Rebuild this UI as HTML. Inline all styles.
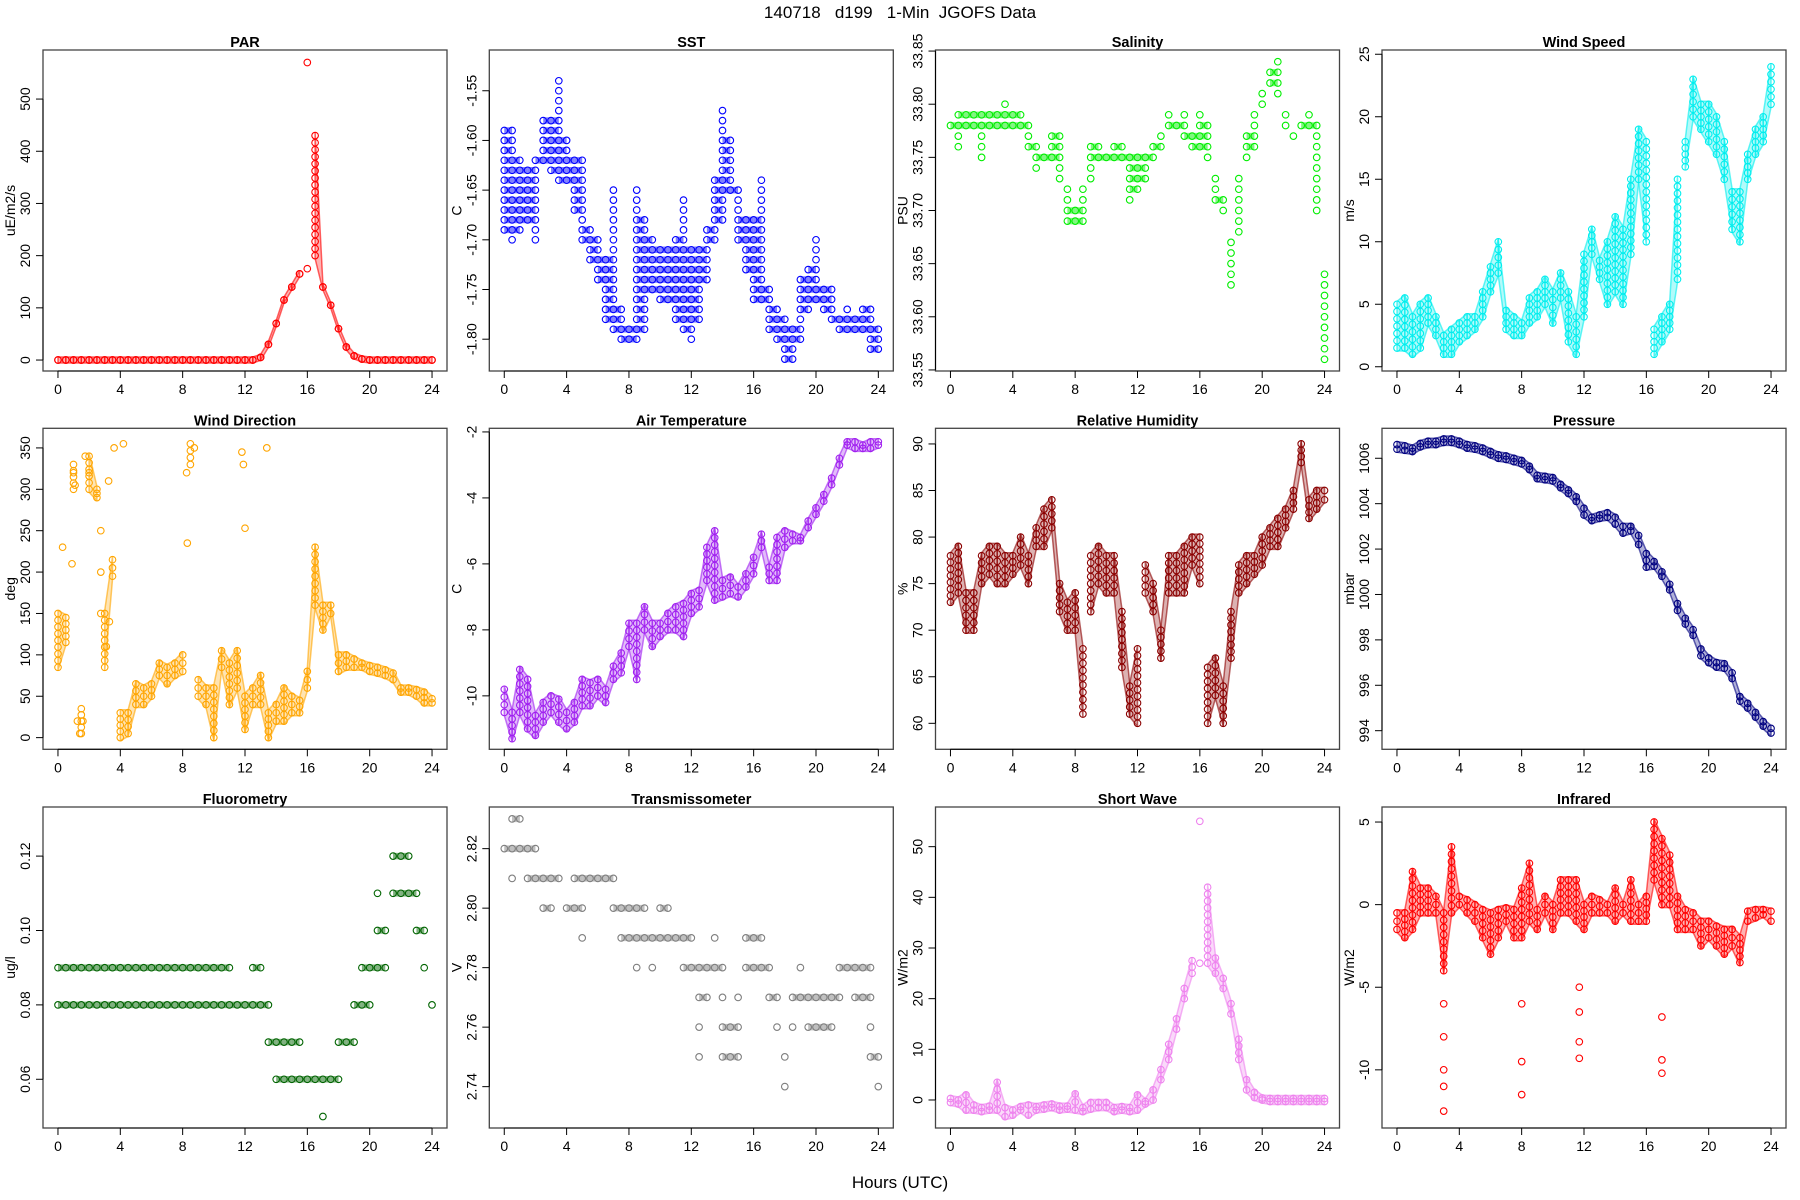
<!DOCTYPE html>
<html><head><meta charset="utf-8"><title>140718 d199 1-Min JGOFS Data</title>
<style>
html,body{margin:0;padding:0;background:#fff;}
svg{display:block;font-family:"Liberation Sans",Arial,sans-serif;}
</style></head>
<body>
<svg id="chart" width="1800" height="1200" viewBox="0 0 1800 1200" xmlns="http://www.w3.org/2000/svg">
<rect x="0" y="0" width="1800" height="1200" fill="#fff"/>
<text x="900" y="18" text-anchor="middle" font-size="17" style="white-space:pre">140718   d199   1-Min  JGOFS Data</text>
<text x="900" y="1188" text-anchor="middle" font-size="17">Hours (UTC)</text>
</svg>
<script>
const hours = [0,0.5,1,1.5,2,2.5,3,3.5,4,4.5,5,5.5,6,6.5,7,7.5,8,8.5,9,9.5,10,10.5,11,11.5,12,12.5,13,13.5,14,14.5,15,15.5,16,16.5,17,17.5,18,18.5,19,19.5,20,20.5,21,21.5,22,22.5,23,23.5,24];
const xTicks = [0,4,8,12,16,20,24];

const parLo = [0,0,0,0,0,0,0,0,0,0,0,0,0,0,0,0,0,0,0,0,0,0,0,0,0,0,5,30,70,115,140,165,175,200,140,105,60,25,8,2,0,0,0,0,0,0,0,0,0];
const parHi = [0,0,0,0,0,0,0,0,0,0,0,0,0,0,0,0,0,0,0,0,0,0,0,0,0,0,5,30,70,115,140,165,570,430,140,105,60,25,8,2,0,0,0,0,0,0,0,0,0];
const parTicks = [0,100,200,300,400,500];

const sstLo = [-1.69,-1.70,-1.69,-1.68,-1.70,-1.62,-1.63,-1.64,-1.64,-1.67,-1.70,-1.72,-1.74,-1.78,-1.79,-1.80,-1.80,-1.80,-1.79,-1.75,-1.76,-1.76,-1.78,-1.79,-1.80,-1.78,-1.74,-1.70,-1.68,-1.65,-1.70,-1.73,-1.76,-1.76,-1.79,-1.80,-1.82,-1.82,-1.80,-1.77,-1.76,-1.77,-1.78,-1.79,-1.79,-1.79,-1.79,-1.81,-1.81];
const sstHi = [-1.59,-1.59,-1.62,-1.63,-1.62,-1.58,-1.58,-1.54,-1.60,-1.62,-1.62,-1.69,-1.70,-1.72,-1.65,-1.77,-1.79,-1.65,-1.68,-1.70,-1.71,-1.71,-1.70,-1.66,-1.71,-1.71,-1.69,-1.64,-1.57,-1.60,-1.65,-1.68,-1.68,-1.64,-1.75,-1.77,-1.78,-1.79,-1.74,-1.73,-1.70,-1.75,-1.75,-1.78,-1.77,-1.78,-1.77,-1.77,-1.79];
const sstTicks = [-1.80,-1.75,-1.70,-1.65,-1.60,-1.55];

const salLo = [33.78,33.76,33.78,33.78,33.75,33.78,33.78,33.78,33.78,33.78,33.76,33.74,33.75,33.75,33.73,33.69,33.69,33.69,33.73,33.75,33.75,33.75,33.75,33.71,33.72,33.73,33.75,33.76,33.78,33.78,33.77,33.76,33.76,33.75,33.71,33.70,33.63,33.68,33.75,33.76,33.80,33.82,33.81,33.78,33.77,33.78,33.78,33.70,33.56];
const salHi = [33.78,33.79,33.79,33.79,33.79,33.79,33.79,33.80,33.79,33.79,33.78,33.76,33.75,33.77,33.77,33.72,33.70,33.72,33.76,33.76,33.75,33.76,33.76,33.75,33.75,33.75,33.76,33.77,33.79,33.78,33.79,33.77,33.79,33.78,33.73,33.71,33.67,33.73,33.77,33.79,33.81,33.83,33.84,33.79,33.77,33.78,33.79,33.78,33.64];
const salTicks = [33.55,33.60,33.65,33.70,33.75,33.80,33.85];

const wsLo = [1.5,1.5,1,1.5,3.5,2.5,1,1,2,2.5,3,4,6,7.5,3,2.5,2.5,3.5,4,5,3.5,5.5,2,1,4,9,7,5,6,5,9,15,10,1,2,3,7,16,20,19,18,17,15,11,10,15,17,18,21];
const wsHi = [5,5.5,4,5,5.5,4,2.5,3,3.5,4,4,6,8,10,4.5,4,3.5,5.5,6,7,6,7.5,6,4,9,11,8.5,10,12,11,15,19,18,3,4,5,15,18,23,21,21,20,18,14,14,17,19,20,24];
const wsTicks = [0,5,10,15,20,25];

const wdLo = [85,115,300,5,300,290,85,195,0,5,40,40,50,75,65,75,80,330,50,40,0,85,40,60,10,40,40,0,20,20,30,30,60,160,130,150,80,85,85,85,80,78,75,70,55,55,50,42,42];
const wdHi = [150,145,330,35,340,300,150,215,30,30,65,60,65,90,85,90,100,355,70,60,60,105,90,105,50,60,75,30,40,60,50,45,80,230,160,160,100,100,95,90,87,85,82,78,60,60,58,55,47];
const wdExtraT = [0.3,0.9,1,1.1,1.25,1.4,1.6,1.75,2,2.5,2.75,2.75,2.75,3.1,3.25,3.3,3.6,4.2,8.25,8.3,8.75,11.8,11.9,12,13.4];
const wdExtraV = [230,210,320,305,20,5,20,340,320,295,250,200,150,110,310,140,350,355,320,235,350,345,330,253,350];
const wdTicks = [0,50,100,150,200,250,300,350];

const atLo = [-10.5,-11.3,-10.5,-11,-11.2,-10.8,-10.5,-10.8,-11,-10.8,-10.3,-10.3,-10,-10.2,-9.5,-9.3,-8.5,-9.5,-8,-8.5,-8.2,-8,-8,-8.2,-7.5,-7.3,-6.5,-7.1,-7,-6.9,-7,-6.7,-6.3,-5.5,-6.5,-6.5,-5.5,-5.3,-5.3,-4.9,-4.5,-4.1,-3.6,-3.0,-2.4,-2.5,-2.5,-2.5,-2.4];
const atHi = [-9.8,-10.5,-9.2,-9.5,-10.6,-10.2,-10,-10.1,-10.5,-10.2,-9.5,-9.6,-9.5,-9.8,-9.1,-8.7,-7.8,-7.8,-7.3,-7.8,-7.8,-7.5,-7.3,-7.2,-6.9,-6.8,-5.5,-5.0,-6.5,-6.4,-6.7,-6.3,-5.8,-5.1,-6.1,-5.2,-5,-5.1,-5.2,-4.7,-4.3,-3.9,-3.4,-2.8,-2.3,-2.3,-2.4,-2.3,-2.3];
const atTicks = [-10,-8,-6,-4,-2];

const rhLo = [73,74,70,70,75,76,75,75,76,77,75,79,79,81,72,70,70,61,72,75,74,74,66,61,60,74,72,67,74,74,74,77,75,60,63,60,67,74,75,76,77,79,79,81,83,88,82,83,84];
const rhHi = [78,79,74,74,78,79,79,78,78,80,78,81,83,84,75,73,74,68,78,79,78,78,72,64,68,77,75,70,78,78,79,80,80,66,67,64,72,77,78,78,80,81,82,83,85,90,84,85,85];
const rhTicks = [60,65,70,75,80,85,90];

const prLo = [1006.4,1006.35,1006.3,1006.5,1006.6,1006.6,1006.7,1006.7,1006.6,1006.45,1006.4,1006.3,1006.15,1006.0,1005.95,1005.85,1005.75,1005.5,1005.1,1005.05,1005.0,1004.7,1004.45,1004.1,1003.5,1003.25,1003.35,1003.4,1003.1,1002.7,1002.8,1002.2,1001.2,1001.25,1000.8,1000.2,999.3,998.7,998.2,997.3,997.0,996.8,996.75,996.3,995.3,995.0,994.6,994.2,993.9];
const prHi = [1006.6,1006.55,1006.45,1006.65,1006.75,1006.75,1006.85,1006.85,1006.75,1006.6,1006.55,1006.45,1006.3,1006.15,1006.1,1006.0,1005.9,1005.65,1005.25,1005.2,1005.15,1004.85,1004.6,1004.3,1003.8,1003.4,1003.5,1003.6,1003.4,1003.0,1003.0,1002.6,1001.8,1001.45,1001.0,1000.45,999.6,998.95,998.45,997.6,997.2,997.0,996.95,996.55,995.5,995.2,994.8,994.4,994.1];
const prTicks = [994,996,998,1000,1002,1004,1006];

const flLo = [0.08,0.08,0.08,0.08,0.08,0.08,0.08,0.08,0.08,0.08,0.08,0.08,0.08,0.08,0.08,0.08,0.08,0.08,0.08,0.08,0.08,0.08,0.08,0.08,0.08,0.08,0.08,0.07,0.06,0.06,0.06,0.06,0.06,0.06,0.05,0.06,0.06,0.07,0.07,0.08,0.08,0.09,0.09,0.11,0.11,0.11,0.10,0.09,0.08];
const flHi = [0.09,0.09,0.09,0.09,0.09,0.09,0.09,0.09,0.09,0.09,0.09,0.09,0.09,0.09,0.09,0.09,0.09,0.09,0.09,0.09,0.09,0.09,0.09,0.08,0.08,0.09,0.09,0.08,0.07,0.07,0.07,0.07,0.06,0.06,0.06,0.06,0.07,0.07,0.08,0.09,0.09,0.11,0.10,0.12,0.12,0.12,0.11,0.10,0.08];
const flTicks = [0.06,0.08,0.10,0.12];

const trLo = [2.82,2.81,2.82,2.81,2.81,2.80,2.80,2.81,2.80,2.80,2.79,2.81,2.81,2.81,2.80,2.79,2.79,2.78,2.79,2.78,2.79,2.79,2.79,2.78,2.78,2.75,2.77,2.78,2.75,2.75,2.75,2.78,2.78,2.78,2.77,2.76,2.74,2.76,2.77,2.76,2.76,2.76,2.76,2.77,2.78,2.77,2.77,2.75,2.74];
const trHi = [2.82,2.83,2.83,2.82,2.82,2.81,2.81,2.81,2.80,2.81,2.81,2.81,2.81,2.81,2.81,2.80,2.80,2.80,2.80,2.79,2.80,2.80,2.79,2.79,2.79,2.78,2.78,2.79,2.78,2.76,2.77,2.79,2.79,2.79,2.78,2.77,2.75,2.77,2.78,2.77,2.77,2.77,2.77,2.78,2.78,2.78,2.78,2.78,2.75];
const trTicks = [2.74,2.76,2.78,2.80,2.82];

const swLo = [-0.5,-0.8,-2,-2,-2.3,-2,-2,-3.3,-3,-2,-3,-2,-1.8,-1.5,-2,-1.8,-2,-2.3,-1.8,-1.5,-1.5,-2.3,-2,-2.3,-2,-0.8,0,4,8,14,20,25,27,27,25,22,17,8,2,0.5,0,-0.3,-0.3,-0.3,-0.3,-0.3,-0.3,-0.3,-0.3];
const swHi = [0.3,0,1,-1,-1.5,-1.2,3.5,-1.5,-2,-1.3,-1,-1.3,-1,-0.8,-1.2,-1.2,1.2,-1.5,-0.5,-0.5,-0.5,-1.5,-1.3,-1.5,1,-0.3,2,6,11,16,22,27.5,55,42,28,24,19,12,4,1.5,0.4,0.3,0.3,0.3,0.3,0.3,0.3,0.3,0.3];
const swTicks = [0,10,20,30,40,50];

const irLo = [-1.5,-2,-1.5,-0.5,-0.5,-0.5,-4,-0.5,0,-0.5,-1,-2,-3,-2,-1,-2,-2,-1,-1.5,-0.5,-1.5,-0.5,-0.5,-1,-1.5,-0.5,-0.5,-0.5,-1,-0.5,-1,-1,-1,1.5,0,0,-1.5,-1.5,-1.5,-2.5,-2,-2.5,-3,-2.5,-3.5,-1,-0.8,-0.6,-1];
const irHi = [-0.5,-0.5,2,1,1,0.5,-0.5,3.5,0.5,0.3,0,-0.3,-0.5,-0.3,-0.2,-0.3,1,2.5,-0.3,0.5,0,1.5,1.5,1.5,0,0.5,0.3,0,1,0,1.5,0,0.5,5,4,3,0.5,-0.3,-0.5,-1,-1,-1.3,-1.5,-1.5,-2,-0.4,-0.3,-0.3,-0.4];
const irExtraT = [3,3,3,3,3,8,8,8,11.7,11.7,11.7,11.7,17,17,17];
const irExtraV = [-12.5,-11,-10,-8,-6,-9.5,-11.5,-6,-9.3,-8.3,-6.5,-5,-9.4,-10.2,-6.8];
const irTicks = [-10,-5,0,5];

const NS = "http://www.w3.org/2000/svg";
const svg = document.getElementById("chart");
const colX = [43, 489.3, 935.5, 1382];
const rowY = [50, 428.3, 807];
const W = 404, H = 321;

function mk(tag, attrs, parent) {
  const e = document.createElementNS(NS, tag);
  for (const k in attrs) e.setAttribute(k, attrs[k]);
  (parent || svg).appendChild(e);
  return e;
}

const panels = [
  {key:"par", title:"PAR", ylab:"uE/m2/s", col:"#ff0000", lo:parLo, hi:parHi, ticks:parTicks, ylim:[-21,594], dec:0, c:0, r:0, q:0},
  {key:"sst", title:"SST", ylab:"C", col:"#0000ff", lo:sstLo, hi:sstHi, ticks:sstTicks, ylim:[-1.832,-1.509], dec:2, c:1, r:0, q:0.01},
  {key:"salinity", title:"Salinity", ylab:"PSU", col:"#00ee00", lo:salLo, hi:salHi, ticks:salTicks, ylim:[33.549,33.851], dec:2, c:2, r:0, q:0.01},
  {key:"wind-speed", title:"Wind Speed", ylab:"m/s", col:"#00eeee", lo:wsLo, hi:wsHi, ticks:wsTicks, ylim:[-0.34,25.34], dec:0, c:3, r:0, q:0},
  {key:"wind-direction", title:"Wind Direction", ylab:"deg", col:"#ffa500", lo:wdLo, hi:wdHi, ticks:wdTicks, ylim:[-14.1,373.7], dec:0, c:0, r:1, q:0, exT:wdExtraT, exV:wdExtraV},
  {key:"air-temperature", title:"Air Temperature", ylab:"C", col:"#a020f0", lo:atLo, hi:atHi, ticks:atTicks, ylim:[-11.62,-1.89], dec:0, c:1, r:1, q:0},
  {key:"relative-humidity", title:"Relative Humidity", ylab:"%", col:"#8b0000", lo:rhLo, hi:rhHi, ticks:rhTicks, ylim:[57.21,91.68], dec:0, c:2, r:1, q:0},
  {key:"pressure", title:"Pressure", ylab:"mbar", col:"#000080", lo:prLo, hi:prHi, ticks:prTicks, ylim:[993.18,1007.32], dec:0, c:3, r:1, q:0},
  {key:"fluorometry", title:"Fluorometry", ylab:"ug/l", col:"#006400", lo:flLo, hi:flHi, ticks:flTicks, ylim:[0.0469,0.1332], dec:2, c:0, r:2, q:0.01},
  {key:"transmissometer", title:"Transmissometer", ylab:"V", col:"#7f7f7f", lo:trLo, hi:trHi, ticks:trTicks, ylim:[2.7261,2.834], dec:2, c:1, r:2, q:0.01},
  {key:"short-wave", title:"Short Wave", ylab:"W/m2", col:"#ee82ee", lo:swLo, hi:swHi, ticks:swTicks, ylim:[-5.53,57.83], dec:0, c:2, r:2, q:0},
  {key:"infrared", title:"Infrared", ylab:"W/m2", col:"#ff0000", lo:irLo, hi:irHi, ticks:irTicks, ylim:[-13.52,5.91], dec:0, c:3, r:2, q:0, exT:irExtraT, exV:irExtraV}
];

function circ(parent, key, cx, cy, col) {
  const c = mk("circle", {cx: cx.toFixed(1), cy: cy.toFixed(1), r: 3.3, fill: "none", stroke: col, "stroke-width": "1.1"}, parent);
  
  
}

panels.forEach(p => {
  const x0 = colX[p.c], y0 = rowY[p.r];
  const padX = W * 0.04 / 1.08;
  const xs = t => x0 + padX + (t / 24) * (W - 2 * padX);
  const ys = v => y0 + H - (v - p.ylim[0]) / (p.ylim[1] - p.ylim[0]) * H;
  const g = mk("g", {});
  
  

  const title = mk("text", {x: x0 + W / 2, y: y0 - 3, "text-anchor": "middle", "font-size": "14.5", "font-weight": "bold"}, g);
  title.textContent = p.title;
  
  

  const sg = mk("g", {}, g);
  
  
  const range = p.ylim[1] - p.ylim[0];

  if (p.q > 0) {
    for (let i = 0; i < hours.length; i++) {
      const n = Math.round((p.hi[i] - p.lo[i]) / p.q);
      for (let k = 0; k <= n; k++) {
        const v = p.lo[i] + k * p.q;
        const yy = ys(v);
        circ(sg, p.key, xs(hours[i]), yy, p.col);
        if (i < hours.length - 1 && v >= p.lo[i + 1] - 1e-9 && v <= p.hi[i + 1] + 1e-9) {
          const ln = mk("line", {x1: xs(hours[i]), x2: xs(hours[i + 1]), y1: yy, y2: yy, stroke: p.col, "stroke-width": "6.5", "stroke-opacity": "0.5"}, sg);
          
          
        }
      }
    }
  } else {
    for (let i = 0; i < hours.length - 1; i++) {
      if (p.hi[i] - p.lo[i] > 0.4 * range || p.hi[i + 1] - p.lo[i + 1] > 0.4 * range) continue;
      if (Math.abs(p.lo[i + 1] - p.lo[i]) > 0.3 * range) continue;
      const pts = [[xs(hours[i]), ys(p.lo[i]) + 3], [xs(hours[i + 1]), ys(p.lo[i + 1]) + 3], [xs(hours[i + 1]), ys(p.hi[i + 1]) - 3], [xs(hours[i]), ys(p.hi[i]) - 3]];
      const poly = mk("polygon", {points: pts.map(q => q[0].toFixed(1) + "," + q[1].toFixed(1)).join(" "), fill: p.col, "fill-opacity": "0.3", stroke: p.col, "stroke-width": "1.5", "stroke-opacity": "0.6", "stroke-linejoin": "round"}, sg);
      
      
    }
    hours.forEach((t, i) => {
      const y1 = ys(p.hi[i]), y2 = ys(p.lo[i]);
      const span = y2 - y1;
      const n = Math.max(1, Math.round(span / 7));
      if (span > 0.4 * H) {
        circ(sg, p.key, xs(t), y1, p.col);
        circ(sg, p.key, xs(t), y2, p.col);
      } else {
        for (let k = 0; k <= n; k++) circ(sg, p.key, xs(t), y1 + span * k / n, p.col);
      }
    });
  }
  if (p.exT) {
    p.exT.forEach((t, i) => circ(sg, p.key, xs(t), ys(p.exV[i]), p.col));
  }

  const box = mk("rect", {x: x0, y: y0, width: W, height: H, fill: "none", stroke: "#444", "stroke-width": "1.3"}, g);
  
  

  const xa = mk("g", {}, g);
  
  
  mk("line", {x1: xs(0), x2: xs(24), y1: y0 + H, y2: y0 + H, stroke: "#000", "stroke-width": "1"}, xa);
  xTicks.forEach(t => {
    mk("line", {x1: xs(t), x2: xs(t), y1: y0 + H, y2: y0 + H + 7, stroke: "#000", "stroke-width": "1"}, xa);
    const lb = mk("text", {x: xs(t), y: y0 + H + 23, "text-anchor": "middle", "font-size": "14"}, xa);
    lb.textContent = String(t);
    
    
  });

  const ya = mk("g", {}, g);
  
  
  mk("line", {x1: x0, x2: x0, y1: ys(p.ticks[0]), y2: ys(p.ticks[p.ticks.length - 1]), stroke: "#000", "stroke-width": "1"}, ya);
  p.ticks.forEach(v => {
    const yy = ys(v);
    mk("line", {x1: x0 - 7, x2: x0, y1: yy, y2: yy, stroke: "#000", "stroke-width": "1"}, ya);
    const lx = x0 - 13;
    const lb = mk("text", {x: lx, y: yy, "text-anchor": "middle", "font-size": "14", transform: "rotate(-90 " + lx + " " + yy + ")"}, ya);
    lb.textContent = v.toFixed(p.dec);
    
    
  });
  const tx = x0 - 28, ty = y0 + H / 2;
  const yt = mk("text", {x: tx, y: ty, "text-anchor": "middle", "font-size": "14", transform: "rotate(-90 " + tx + " " + ty + ")"}, ya);
  yt.textContent = p.ylab;
  
  
});
</script>
</body></html>
